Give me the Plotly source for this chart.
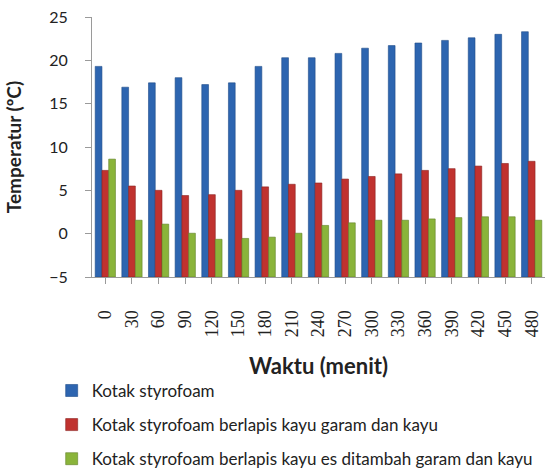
import plotly.graph_objects as go

waktu = ["0", "30", "60", "90", "120", "150", "180", "210", "240", "270",
         "300", "330", "360", "390", "420", "450", "480"]
kotak_styrofoam = [19.3, 16.9, 17.4, 18.0, 17.2, 17.4, 19.3, 20.3, 20.3, 20.8,
                   21.4, 21.7, 22.0, 22.3, 22.6, 23.0, 23.3]
berlapis_garam = [7.3, 5.5, 5.0, 4.4, 4.5, 5.0, 5.4, 5.7, 5.85, 6.3,
                  6.6, 6.9, 7.3, 7.5, 7.8, 8.1, 8.35]
berlapis_es = [8.6, 1.55, 1.1, 0.05, -0.65, -0.55, -0.4, 0.05, 0.95, 1.25,
               1.55, 1.55, 1.7, 1.85, 1.95, 1.95, 1.55]
series_names = ["Kotak styrofoam",
                "Kotak styrofoam berlapis kayu garam dan kayu",
                "Kotak styrofoam berlapis kayu es ditambah garam dan kayu"]
y_min, y_max = -5, 25

colors = ["#2D65B0", "#C0322F", "#8AB43A"]
edges = ["#1E4B88", "#8A2220", "#61822A"]

fig = go.Figure()
for i, (name, vals) in enumerate(zip(series_names, [kotak_styrofoam, berlapis_garam, berlapis_es])):
    # bars rise from the bottom of the value axis (-5), as in the original chart
    fig.add_trace(go.Bar(
        x=waktu, y=[v - y_min for v in vals], base=y_min,
        customdata=vals, hovertemplate="%{x}: %{customdata}<extra></extra>",
        name=name, legendgroup=f"g{i}",
        marker=dict(color=colors[i], line=dict(color=edges[i], width=0.6)),
    ))

fig.update_layout(
    width=547, height=471,
    margin=dict(l=92, r=2, t=17, b=194, autoexpand=False),
    paper_bgcolor="white", plot_bgcolor="white",
    barmode="group", bargap=0.24, bargroupgap=0.0,
    showlegend=True,
    legend=dict(orientation="v", x=-0.089, xref="paper", y=-0.369, yref="paper",
                xanchor="left", yanchor="top",
                font=dict(family="Lato, Open Sans, sans-serif", size=17, color="#222"),
                tracegroupgap=9, itemwidth=30, bgcolor="rgba(0,0,0,0)"),
    font=dict(family="Lato, sans-serif", color="#222"),
)
fig.update_yaxes(
    range=[y_min, y_max], dtick=5, showgrid=False, zeroline=False, automargin=False,
    showline=True, linecolor="#9a9a9a", linewidth=1,
    ticks="outside", ticklen=6, tickcolor="#9a9a9a", ticklabelstandoff=14,
    tickfont=dict(family="Lato, sans-serif", size=16, color="#222"),
    title=dict(text="<b>Temperatur (ºC)</b>", font=dict(family="Lato, sans-serif", size=19, color="#222"), standoff=22),
)
fig.update_xaxes(
    type="category", showgrid=False, zeroline=False, automargin=False,
    showline=True, linecolor="#9a9a9a", linewidth=1,
    ticks="outside", ticklen=6, tickcolor="#9a9a9a",
    tickangle=-90, ticklabelstandoff=19,
    tickfont=dict(family="Liberation Serif, serif", size=18, color="#222"),
    title=dict(text="<b>Waktu (menit)</b>", font=dict(family="Lato, sans-serif", size=22, color="#222"), standoff=22),
)

fig.write_html("out.html", config={"displayModeBar": False},
               post_script="document.body.style.margin='0';document.body.style.overflow='hidden';")
